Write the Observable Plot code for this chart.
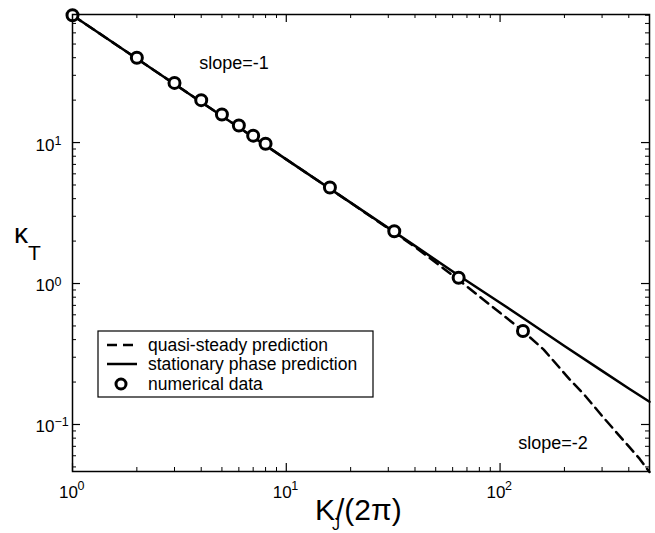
<!DOCTYPE html>
<html><head><meta charset="utf-8">
<script src="https://cdn.jsdelivr.net/npm/d3@7"></script>
<script src="https://cdn.jsdelivr.net/npm/@observablehq/plot@0.6"></script>
<style>body{margin:0;background:#fff} #chart svg{display:block}</style>
</head><body><div id="chart"></div>
<script>
// numerical data
const numX = [1, 2, 3, 4, 5, 6, 7, 8, 16, 32, 64, 128];
const numY = [80, 40, 26.5, 20, 15.8, 13.2, 11.2, 9.8, 4.8, 2.35, 1.1, 0.46];
// stationary phase prediction
const statX = [1, 10, 20, 40, 64, 100, 128, 200, 300, 400, 500];
const statY = [80, 7.6, 3.75, 1.85, 1.14, 0.73, 0.57, 0.36, 0.24, 0.18, 0.145];
// quasi-steady prediction
const quasiX = [1, 10, 20, 32, 40, 64, 100, 128, 160, 211, 250, 300, 350, 400, 450, 500];
const quasiY = [80, 7.6, 3.74, 2.3, 1.82, 1.06, 0.62, 0.46, 0.34, 0.21, 0.16, 0.115, 0.088, 0.07, 0.057, 0.046];
// ticks
const xMajor = [1, 10, 100];
const xMinor = [2, 3, 4, 5, 6, 7, 8, 9, 20, 30, 40, 50, 60, 70, 80, 90, 200, 300, 400, 500];
const yMajor = [0.1, 1, 10];
const yMinor = [0.05, 0.06, 0.07, 0.08, 0.09, 0.2, 0.3, 0.4, 0.5, 0.6, 0.7, 0.8, 0.9, 2, 3, 4, 5, 6, 7, 8, 9, 20, 30, 40, 50, 60, 70, 80];
// annotations
const noteText = ["slope=-1", "slope=-2"];
const noteX = [5.7, 177];
const noteY = [36.3, 0.0733];
const legendLabels = ["quasi-steady prediction", "stationary phase prediction", "numerical data"];

const W = 655, H = 533, mT = 14, mB = 62, mL = 72, mR = 6;
const iH = H - mT - mB, iW = W - mL - mR;
const font = "'Liberation Sans', Arial, Helvetica, sans-serif";
const expo = d => String(Math.round(Math.log10(d))).replace("-", "\u2212");

const num = numX.map((x, i) => ({x, y: numY[i]}));
const stat = statX.map((x, i) => ({x, y: statY[i]}));
const quasi = quasiX.map((x, i) => ({x, y: quasiY[i]}));
const notes = noteText.map((t, i) => ({t, x: noteX[i], y: noteY[i]}));

const plot = Plot.plot({
  width: W, height: H,
  marginTop: mT, marginBottom: mB, marginLeft: mL, marginRight: mR,
  style: {fontFamily: font, fontSize: "17px", background: "white", color: "black", overflow: "visible"},
  x: {type: "log", domain: [1, 500], label: null, axis: null},
  y: {type: "log", domain: [0.0464, 81], label: null, axis: null},
  marks: [
    Plot.tickX(xMajor, {insetTop: iH - 8, strokeWidth: 1.2}),
    Plot.tickX(xMajor, {insetBottom: iH - 8, strokeWidth: 1.2}),
    Plot.tickX(xMinor, {insetTop: iH - 4, strokeWidth: 1}),
    Plot.tickX(xMinor, {insetBottom: iH - 4, strokeWidth: 1}),
    Plot.tickY(yMajor, {insetRight: iW - 8, strokeWidth: 1.2}),
    Plot.tickY(yMajor, {insetLeft: iW - 8, strokeWidth: 1.2}),
    Plot.tickY(yMinor, {insetRight: iW - 4, strokeWidth: 1}),
    Plot.tickY(yMinor, {insetLeft: iW - 4, strokeWidth: 1}),
    // x tick labels: "10" with exponent
    Plot.text(xMajor, {x: d => d, frameAnchor: "bottom", text: () => "10", fontSize: 17, dx: -4, dy: 21.5, lineAnchor: "middle"}),
    Plot.text(xMajor, {x: d => d, frameAnchor: "bottom", text: expo, fontSize: 12.5, textAnchor: "start", dx: 5, dy: 14.5, lineAnchor: "middle"}),
    // y tick labels
    Plot.text(yMajor, {y: d => d, frameAnchor: "left", text: () => "10", fontSize: 17, textAnchor: "end", dx: -18, dy: 2.5, lineAnchor: "middle"}),
    Plot.text(yMajor, {y: d => d, frameAnchor: "left", text: expo, fontSize: 12.5, textAnchor: "start", dx: -18, dy: -2, lineAnchor: "middle"}),
    Plot.line(quasi, {x: "x", y: "y", stroke: "black", strokeWidth: 2.5, strokeDasharray: "10,6"}),
    Plot.line(stat, {x: "x", y: "y", stroke: "black", strokeWidth: 2.5}),
    Plot.dot(num, {x: "x", y: "y", r: 5.5, stroke: "black", strokeWidth: 3, fill: "white"}),
    Plot.text(notes, {x: "x", y: "y", text: "t", fontSize: 18}),
    Plot.frame({stroke: "black", strokeWidth: 1.5})
  ]
});
document.getElementById("chart").appendChild(plot);

const svg = d3.select(plot);
// x axis title
const xt = svg.append("text").attr("x", 315).attr("y", 520).attr("text-anchor", "start")
  .attr("font-family", font).attr("font-size", 30).attr("fill", "black");
xt.append("tspan").text("K");
xt.append("tspan").attr("font-size", 16).attr("dx", -3).attr("dy", 10).text("J");
xt.append("tspan").attr("dx", -4).attr("dy", -10).text("/(2\u03c0)");
// y axis title
const yt = svg.append("text").attr("x", 14).attr("y", 243).attr("text-anchor", "start")
  .attr("font-family", font).attr("font-size", 28).attr("fill", "black");
yt.append("tspan").text("\u03ba");
yt.append("tspan").attr("font-size", 21).attr("dx", 0).attr("dy", 17).text("T");
// legend
const lg = svg.append("g").attr("font-family", font).attr("font-size", 17.5).attr("text-anchor", "start");
lg.append("rect").attr("x", 98).attr("y", 331).attr("width", 275).attr("height", 66).attr("fill", "white").attr("stroke", "black").attr("stroke-width", 1.2);
const rows = [345, 364, 384];
lg.append("line").attr("x1", 107).attr("x2", 137).attr("y1", rows[0]).attr("y2", rows[0]).attr("stroke", "black").attr("stroke-width", 2.5).attr("stroke-dasharray", "10,6");
lg.append("line").attr("x1", 107).attr("x2", 137).attr("y1", rows[1]).attr("y2", rows[1]).attr("stroke", "black").attr("stroke-width", 2.5);
lg.append("circle").attr("cx", 121).attr("cy", rows[2]).attr("r", 5).attr("fill", "white").attr("stroke", "black").attr("stroke-width", 3);
legendLabels.forEach((t, i) => lg.append("text").attr("x", 148).attr("y", rows[i]).attr("dy", "0.35em").attr("fill", "black").text(t));
</script></body></html>
